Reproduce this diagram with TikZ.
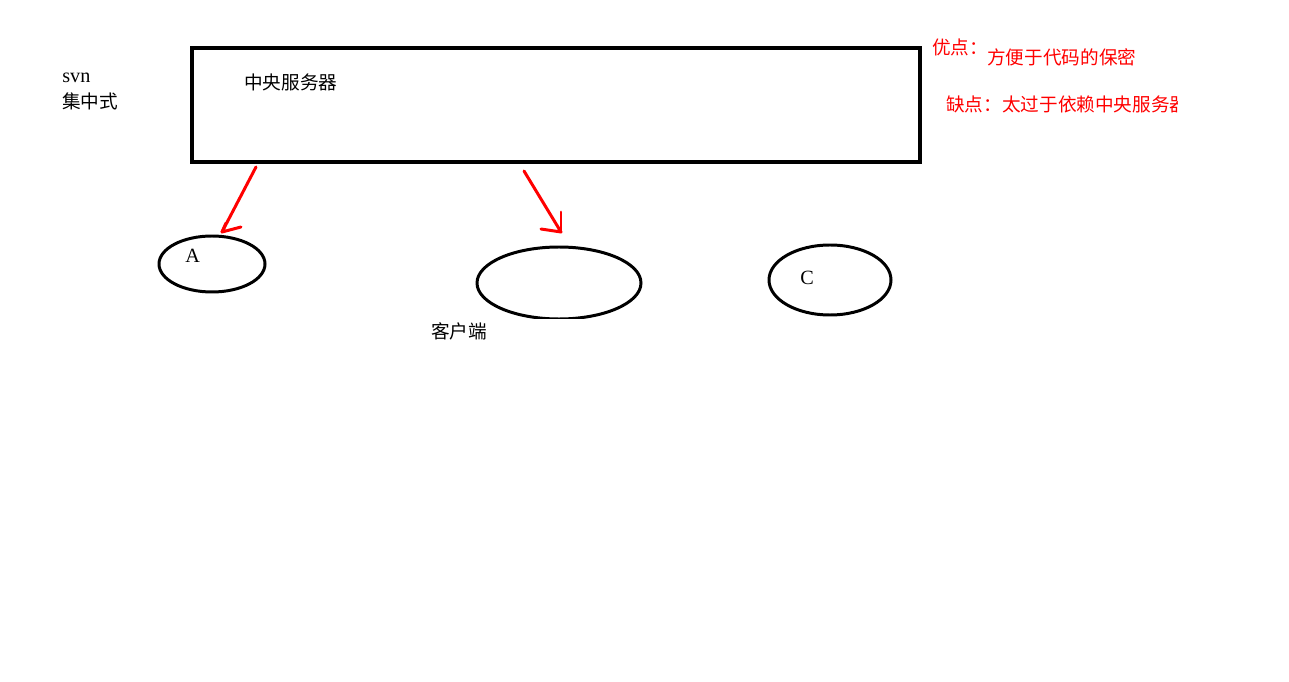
\documentclass[tikz,border=0pt]{standalone}
\usepackage{fontspec}
\setmainfont{Liberation Serif}
\newfontfamily\cjk{Noto Sans CJK SC}
\begin{document}
\begin{tikzpicture}[x=0.02cm,y=-0.02cm,
  txt/.style={inner sep=0pt,anchor=west,font=\cjk\fontsize{10.6}{12}\selectfont},
  redtxt/.style={txt,text=red},
  lat/.style={inner sep=0pt,anchor=west,font=\fontsize{11.5}{12}\selectfont},
  ell/.style={draw=black,line width=1.7pt},
  arr/.style={draw=red,line width=1.7pt,line cap=round,line join=round}]
\useasboundingbox (0,0) rectangle (1289,682);
\fill[white] (0,0) rectangle (1289,682);
% server box
\draw[line width=1.9pt] (192,48) rectangle (920,162);
\node[txt] (srv) at (244,82) {中央服务器};
% left labels
\node[lat] (svn) at (62,78) {svn};
\node[txt] (jzs) at (62,101) {集中式};
% red notes
\node[redtxt] (yd) at (932,47) {优点：};
\node[redtxt] (ydt) at (987,57) {方便于代码的保密};
\begin{scope}
\clip (940,85) rectangle (1177,125);
\node[redtxt] (qd) at (946,104) {缺点：太过于依赖中央服务器};
\end{scope}
% clients
\draw[ell] (212,264) ellipse [x radius=53, y radius=28];
\node[lat] (a) at (185,256) {A};
\begin{scope}
\clip (470,240) rectangle (650,319);
\draw[ell] (559,283) ellipse [x radius=82, y radius=36];
\end{scope}
\draw[ell] (830,280) ellipse [x radius=61, y radius=35];
\node[lat] (c) at (800,278) {C};
\node[txt] (kh) at (431,331) {客户端};
% arrows
\coordinate (s1) at (256,167);
\coordinate (t1) at (222,232);
\coordinate (b1a) at (241,227);
\coordinate (b1b) at (226,223);
\coordinate (s2) at (524,171);
\coordinate (t2) at (561,232);
\coordinate (b2a) at (541,229);
\coordinate (b2b) at (561,212);
\draw[arr] (s1) -- (t1) -- (b1a);
\draw[arr] (t1) -- (b1b);
\draw[arr] (s2) -- (t2) -- (b2a);
\draw[arr] (t2) -- (b2b);
\end{tikzpicture}
\end{document}
